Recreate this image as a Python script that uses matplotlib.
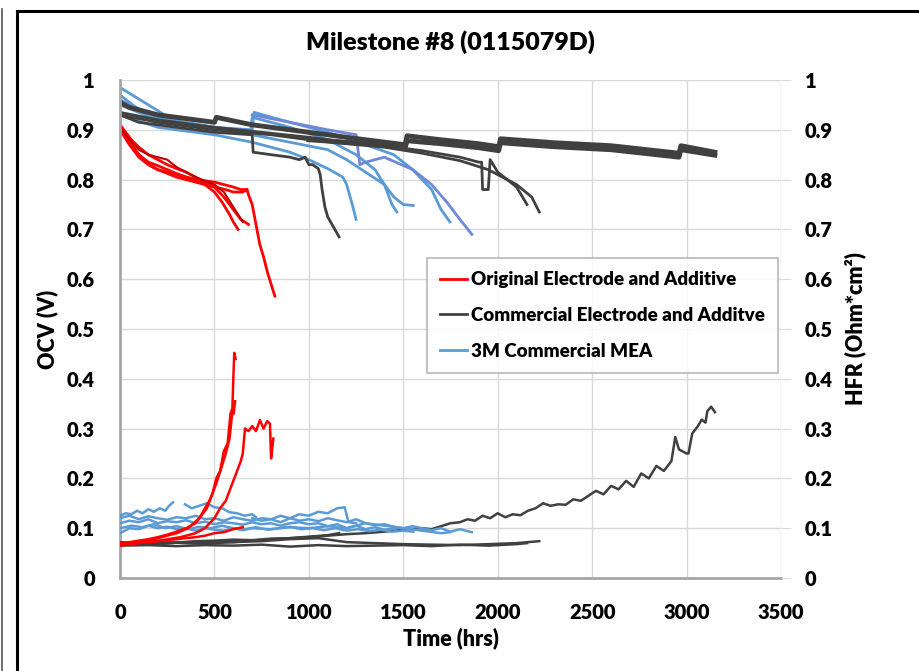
import matplotlib
matplotlib.use("Agg")
import matplotlib.pyplot as plt
from matplotlib.lines import Line2D

plt.rcParams['font.family'] = 'Lato'
plt.rcParams['font.weight'] = 'heavy'
W = 'heavy'

RED = '#ff0000'
DRED = '#c00000'
BLK = '#404040'
BLU = '#5b9bd5'
SLATE = '#7088d8'

# ---- OCV (left axis) ----
ro1_t = [0, 30, 60, 100, 150, 200, 250, 300, 350, 400, 450, 500, 540, 580, 600, 625]
ro1_v = [0.905, 0.89, 0.87, 0.85, 0.835, 0.828, 0.82, 0.812, 0.805, 0.80, 0.79, 0.775, 0.755, 0.73, 0.715, 0.70]
ro2_t = [0, 30, 60, 100, 150, 200, 250, 300, 350, 400, 450, 500, 550, 600, 640, 680]
ro2_v = [0.91, 0.895, 0.88, 0.865, 0.85, 0.84, 0.83, 0.822, 0.815, 0.805, 0.795, 0.785, 0.765, 0.74, 0.72, 0.71]
ro3_t = [0, 40, 80, 120, 160, 200, 300, 400, 500, 550, 600, 640, 672, 680, 700, 720, 740, 760, 780, 800, 820]
ro3_v = [0.91, 0.885, 0.86, 0.84, 0.828, 0.82, 0.81, 0.80, 0.795, 0.79, 0.785, 0.78, 0.78, 0.77, 0.75, 0.71, 0.67, 0.645, 0.615, 0.59, 0.566]
ro4_t = [0, 50, 100, 150, 200, 250, 300, 400, 500, 550, 600, 650]
ro4_v = [0.905, 0.88, 0.86, 0.85, 0.845, 0.84, 0.825, 0.805, 0.79, 0.775, 0.745, 0.715]
ro5_t = [0, 50, 100, 150, 200, 300, 400, 500, 560, 600, 650, 672]
ro5_v = [0.9, 0.87, 0.845, 0.83, 0.82, 0.805, 0.795, 0.785, 0.78, 0.775, 0.775, 0.78]

k1_t = [0, 50, 200, 400, 500, 510, 700, 900, 1100, 1300, 1510, 1520, 1700, 1900, 2005, 2015, 2300, 2600, 2960, 2970, 3150]
k1_v = [0.955, 0.945, 0.93, 0.92, 0.915, 0.925, 0.91, 0.90, 0.89, 0.88, 0.87, 0.888, 0.88, 0.872, 0.866, 0.882, 0.874, 0.868, 0.853, 0.868, 0.855]
k1b_t = [1000, 1300, 1510, 1520, 1700, 1900, 2005, 2015, 2300, 2600, 2960, 2970, 3150]
k1b_v = [0.88, 0.872, 0.864, 0.878, 0.872, 0.864, 0.858, 0.874, 0.866, 0.86, 0.845, 0.86, 0.849]
k2_t = [0, 100, 300, 500, 700, 705, 800, 900, 950, 980, 1000, 1020, 1050, 1060, 1070, 1085, 1100, 1130, 1160]
k2_v = [0.93, 0.915, 0.905, 0.895, 0.89, 0.855, 0.85, 0.845, 0.84, 0.845, 0.83, 0.83, 0.822, 0.81, 0.78, 0.745, 0.725, 0.705, 0.685]
k3_t = [0, 200, 500, 800, 1000, 1200, 1400, 1600, 1800, 1900, 1915, 1920, 1950, 1960, 2000, 2100, 2155]
k3_v = [0.935, 0.92, 0.905, 0.893, 0.885, 0.876, 0.868, 0.858, 0.845, 0.835, 0.835, 0.78, 0.78, 0.84, 0.815, 0.785, 0.75]
k4_t = [0, 200, 500, 800, 1000, 1200, 1400, 1600, 1800, 1950, 2000, 2100, 2180, 2220]
k4_v = [0.93, 0.915, 0.9, 0.89, 0.88, 0.872, 0.865, 0.853, 0.838, 0.82, 0.81, 0.79, 0.765, 0.735]

b1_t = [0, 200, 500, 700, 900, 1000, 1100, 1180, 1200, 1230, 1250]
b1_v = [0.93, 0.905, 0.89, 0.875, 0.855, 0.84, 0.822, 0.805, 0.79, 0.75, 0.72]
b2_t = [0, 200, 500, 690, 700, 900, 1100, 1250, 1350, 1400, 1440, 1466]
b2_v = [0.96, 0.925, 0.905, 0.895, 0.925, 0.905, 0.88, 0.85, 0.82, 0.79, 0.75, 0.735]
b3_t = [0, 200, 500, 700, 900, 1100, 1200, 1300, 1400, 1450, 1500, 1553]
b3_v = [0.95, 0.92, 0.905, 0.89, 0.875, 0.86, 0.84, 0.815, 0.79, 0.765, 0.75, 0.748]
b4_t = [0, 300, 500, 700, 710, 900, 1100, 1300, 1450, 1550, 1650, 1700, 1747]
b4_v = [0.985, 0.915, 0.905, 0.9, 0.935, 0.915, 0.895, 0.87, 0.85, 0.82, 0.78, 0.74, 0.715]
b5_t = [700, 900, 1100, 1250, 1270, 1300, 1400, 1550, 1650, 1730, 1800, 1863]
b5_v = [0.93, 0.915, 0.9, 0.89, 0.83, 0.835, 0.845, 0.82, 0.79, 0.755, 0.72, 0.69]
b6_t = [0, 100, 300, 500, 700]
b6_v = [0.97, 0.94, 0.915, 0.905, 0.895]

# ---- HFR (right axis) ----
rh1_t = [0, 50, 100, 150, 200, 250, 300, 350, 400, 430, 460, 490, 510, 530, 550, 570, 585, 595, 600, 605, 612]
rh1_v = [0.07, 0.072, 0.075, 0.078, 0.082, 0.087, 0.093, 0.10, 0.11, 0.125, 0.14, 0.17, 0.2, 0.215, 0.255, 0.27, 0.33, 0.34, 0.40, 0.452, 0.44]
rh2_t = [0, 60, 120, 180, 240, 300, 360, 420, 450, 480, 510, 540, 560, 580, 595, 602, 609]
rh2_v = [0.068, 0.07, 0.074, 0.078, 0.084, 0.09, 0.1, 0.12, 0.14, 0.16, 0.19, 0.225, 0.25, 0.28, 0.335, 0.33, 0.355]
rh3_t = [0, 80, 160, 240, 320, 400, 450, 500, 530, 560, 590, 620, 640, 650, 662, 680, 700, 720, 741, 760, 780, 794, 800, 806, 812]
rh3_v = [0.068, 0.07, 0.073, 0.077, 0.082, 0.09, 0.1, 0.12, 0.14, 0.155, 0.185, 0.215, 0.235, 0.25, 0.30, 0.295, 0.305, 0.295, 0.317, 0.30, 0.315, 0.31, 0.24, 0.26, 0.28]
rh4_t = [0, 100, 200, 300, 400, 450, 500, 550, 600, 650]
rh4_v = [0.065, 0.07, 0.074, 0.078, 0.082, 0.085, 0.09, 0.092, 0.098, 0.102]

kh1_t = [0, 100, 200, 300, 400, 500, 600, 700, 800, 900, 1000, 1100, 1200, 1300, 1400, 1500, 1600, 1650, 1700, 1750,
         1800, 1840, 1880, 1920, 1960, 2000, 2040, 2080, 2120, 2160,
         2200, 2240, 2280, 2320, 2360, 2400, 2440, 2480, 2520, 2560,
         2600, 2640, 2680, 2720, 2760, 2800, 2840, 2880, 2920, 2940,
         2960, 3000, 3010, 3030, 3060, 3080, 3100, 3110, 3130, 3150]
kh1_v = [0.068, 0.07, 0.072, 0.071, 0.074, 0.075, 0.077, 0.076, 0.079, 0.08, 0.082, 0.085, 0.088, 0.09, 0.093, 0.097, 0.10, 0.098, 0.104, 0.11,
         0.112, 0.118, 0.115, 0.125, 0.12, 0.13, 0.122, 0.128, 0.126, 0.135,
         0.14, 0.15, 0.145, 0.148, 0.147, 0.158, 0.155, 0.165, 0.175, 0.168,
         0.185, 0.178, 0.195, 0.183, 0.21, 0.2, 0.225, 0.215, 0.235, 0.283,
         0.258, 0.25, 0.25, 0.29, 0.305, 0.318, 0.312, 0.335, 0.344, 0.333]
kh2_t = [0, 100, 200, 300, 400, 500, 600, 700, 800, 900, 1000, 1100, 1160]
kh2_v = [0.072, 0.07, 0.068, 0.071, 0.07, 0.073, 0.072, 0.075, 0.078, 0.08, 0.083, 0.086, 0.09]
kh3_t = [0, 150, 300, 450, 600, 750, 900, 1050, 1200, 1350, 1500, 1650, 1800, 1950, 2100, 2155]
kh3_v = [0.065, 0.066, 0.064, 0.066, 0.065, 0.067, 0.063, 0.066, 0.064, 0.065, 0.066, 0.064, 0.067, 0.065, 0.068, 0.07]
kh4_t = [0, 150, 300, 450, 600, 750, 900, 1050, 1200, 1350, 1500, 1650, 1800, 1950, 2100, 2220]
kh4_v = [0.07, 0.068, 0.071, 0.069, 0.072, 0.074, 0.078, 0.08, 0.072, 0.07, 0.068, 0.067, 0.066, 0.068, 0.07, 0.074]

bha_t = [0, 30, 60, 90, 120, 150, 180, 210, 240, 260, 281]
bha_v = [0.125, 0.13, 0.128, 0.135, 0.13, 0.138, 0.133, 0.14, 0.135, 0.145, 0.152]
bhb_t = [344, 380, 420, 460, 500, 540, 580, 620, 660, 700, 720]
bhb_v = [0.148, 0.14, 0.145, 0.15, 0.142, 0.14, 0.132, 0.13, 0.125, 0.128, 0.122]
bhc_t = [0, 50, 100, 150, 200, 250, 300, 350, 400, 450, 500, 550, 600, 650, 700, 750, 800, 850, 900, 950, 1000, 1050, 1100, 1150, 1190, 1210, 1250]
bhc_v = [0.12, 0.125, 0.118, 0.124, 0.12, 0.117, 0.122, 0.12, 0.125, 0.118, 0.12, 0.115, 0.122, 0.118, 0.115, 0.12, 0.118, 0.125, 0.12, 0.128, 0.125, 0.133, 0.13, 0.14, 0.142, 0.112, 0.11]
bhd_t = [0, 50, 100, 150, 200, 250, 300, 350, 400, 450, 500, 550, 600, 650, 700, 750, 800, 850, 900, 950, 1000, 1050, 1100, 1150, 1200, 1250, 1300, 1350, 1400, 1466]
bhd_v = [0.11, 0.115, 0.112, 0.118, 0.11, 0.114, 0.112, 0.116, 0.11, 0.113, 0.108, 0.112, 0.11, 0.107, 0.112, 0.108, 0.11, 0.105, 0.11, 0.112, 0.108, 0.11, 0.104, 0.108, 0.1, 0.105, 0.098, 0.102, 0.097, 0.1]
bhe_t = [0, 60, 120, 180, 240, 300, 360, 420, 480, 540, 600, 660, 720, 780, 840, 900, 960, 1020, 1080, 1140, 1200, 1260, 1320, 1380, 1440, 1500, 1553]
bhe_v = [0.1, 0.105, 0.102, 0.108, 0.1, 0.104, 0.098, 0.103, 0.1, 0.105, 0.1, 0.098, 0.102, 0.097, 0.1, 0.103, 0.098, 0.1, 0.096, 0.1, 0.095, 0.098, 0.094, 0.097, 0.093, 0.095, 0.093]
bhf_t = [700, 750, 800, 850, 900, 950, 1000, 1050, 1100, 1150, 1200, 1250, 1300, 1350, 1400, 1450, 1500, 1550, 1600, 1650, 1700, 1750, 1800, 1863]
bhf_v = [0.12, 0.115, 0.118, 0.112, 0.12, 0.115, 0.118, 0.114, 0.12, 0.116, 0.112, 0.118, 0.11, 0.106, 0.108, 0.103, 0.1, 0.104, 0.1, 0.096, 0.1, 0.093, 0.098, 0.092]
bhg_t = [0, 50, 100, 150, 200, 250, 300, 350, 400, 450, 500, 550, 600, 650, 700, 800, 900, 1000, 1100, 1200, 1300, 1400, 1500, 1600, 1700, 1747]
bhg_v = [0.09, 0.1, 0.098, 0.105, 0.1, 0.103, 0.098, 0.1, 0.095, 0.1, 0.097, 0.095, 0.1, 0.096, 0.1, 0.098, 0.102, 0.1, 0.104, 0.1, 0.11, 0.105, 0.1, 0.095, 0.09, 0.092]

legend_labels = ['Original Electrode and Additive', 'Commercial Electrode and Additve', '3M Commercial MEA']

fig = plt.figure(figsize=(9.2, 6.71), dpi=100)
ax = fig.add_axes([120/920, 1-578/671, 661/920, 498/671])
ax2 = ax.twinx()

# OCV curves
for t, v in [(b6_t, b6_v), (b1_t, b1_v), (b2_t, b2_v), (b3_t, b3_v), (b4_t, b4_v)]:
    ax.plot(t, v, color=BLU, lw=2)
ax.plot(b5_t, b5_v, color=SLATE, lw=2)
ax.plot(k1_t, k1_v, color=BLK, lw=3.5)
ax.plot(k1b_t, k1b_v, color=BLK, lw=3.5)
for t, v in [(k2_t, k2_v), (k3_t, k3_v), (k4_t, k4_v)]:
    ax.plot(t, v, color=BLK, lw=2)
for t, v in [(ro1_t, ro1_v), (ro2_t, ro2_v), (ro3_t, ro3_v), (ro5_t, ro5_v)]:
    ax.plot(t, v, color=RED, lw=2)
ax.plot(ro4_t, ro4_v, color=DRED, lw=1.5)

# HFR curves
for t, v in [(kh1_t, kh1_v), (kh2_t, kh2_v), (kh3_t, kh3_v), (kh4_t, kh4_v)]:
    ax2.plot(t, v, color=BLK, lw=1.8)
for t, v in [(bha_t, bha_v), (bhb_t, bhb_v), (bhc_t, bhc_v), (bhd_t, bhd_v),
             (bhe_t, bhe_v), (bhf_t, bhf_v), (bhg_t, bhg_v)]:
    ax2.plot(t, v, color=BLU, lw=1.8)
for t, v in [(rh1_t, rh1_v), (rh2_t, rh2_v), (rh3_t, rh3_v), (rh4_t, rh4_v)]:
    ax2.plot(t, v, color=RED, lw=1.8)

ticks = [0, 0.1, 0.2, 0.3, 0.4, 0.5, 0.6, 0.7, 0.8, 0.9, 1]
tick_txt = ['0', '0.1', '0.2', '0.3', '0.4', '0.5', '0.6', '0.7', '0.8', '0.9', '1']
xticks = [0, 500, 1000, 1500, 2000, 2500, 3000, 3500]

for a in (ax, ax2):
    a.set_xlim(0, 3500)
    a.set_ylim(0, 1)
    a.set_yticks(ticks)
    a.set_yticklabels(tick_txt, fontweight=W)
    for s in a.spines.values():
        s.set_visible(False)
ax.set_xticks(xticks)
ax.set_xticklabels([str(x) for x in xticks], fontweight=W)
ax.grid(True, color='#d9d9d9', lw=1)
ax.set_axisbelow(True)
ax.spines['left'].set_visible(True)
ax.spines['left'].set_color('#a6a6a6')
ax.spines['left'].set_linewidth(2)
ax.spines['bottom'].set_visible(True)
ax.spines['bottom'].set_color('#a6a6a6')
ax.spines['bottom'].set_linewidth(2)
ax.tick_params(axis='both', length=0, labelsize=14.5)
ax.tick_params(axis='x', pad=18)
ax.tick_params(axis='y', pad=18)
ax2.tick_params(axis='y', length=7, color='#d9d9d9', labelsize=14.5, pad=10)

ax.set_title('Milestone #8 (0115079D)', fontsize=18, fontweight=W, pad=22)
ax.set_xlabel('Time (hrs)', fontsize=15.5, fontweight=W, labelpad=4)
ax.set_ylabel('OCV (V)', fontsize=15.5, fontweight=W, labelpad=6)
ax2.set_ylabel('HFR (Ohm*cm²)', fontsize=15.5, fontweight=W, labelpad=8)

handles = [Line2D([], [], color=RED, lw=2), Line2D([], [], color=BLK, lw=2), Line2D([], [], color=BLU, lw=2)]
leg = ax2.legend(handles, legend_labels, loc='upper left', bbox_to_anchor=((427-120)/661, (578-258)/498),
                 prop={'family': 'Lato', 'size': 13.5, 'weight': W}, frameon=True, fancybox=False,
                 edgecolor='#a6a6a6', handlelength=1.45, handletextpad=0.2, labelspacing=1.0,
                 borderpad=0.7, borderaxespad=0)
leg.get_frame().set_linewidth(1.2)

# outer frame
fig.add_artist(Line2D([17/920, 17/920], [0, 1-11/671], color='black', lw=2.2, transform=fig.transFigure))
fig.add_artist(Line2D([17/920, 1], [1-11/671, 1-11/671], color='black', lw=2.2, transform=fig.transFigure))
fig.add_artist(Line2D([2.5/920, 2.5/920], [0, 1-9/671], color='#555555', lw=1.2, transform=fig.transFigure))

fig.savefig('out.png', dpi=100)
